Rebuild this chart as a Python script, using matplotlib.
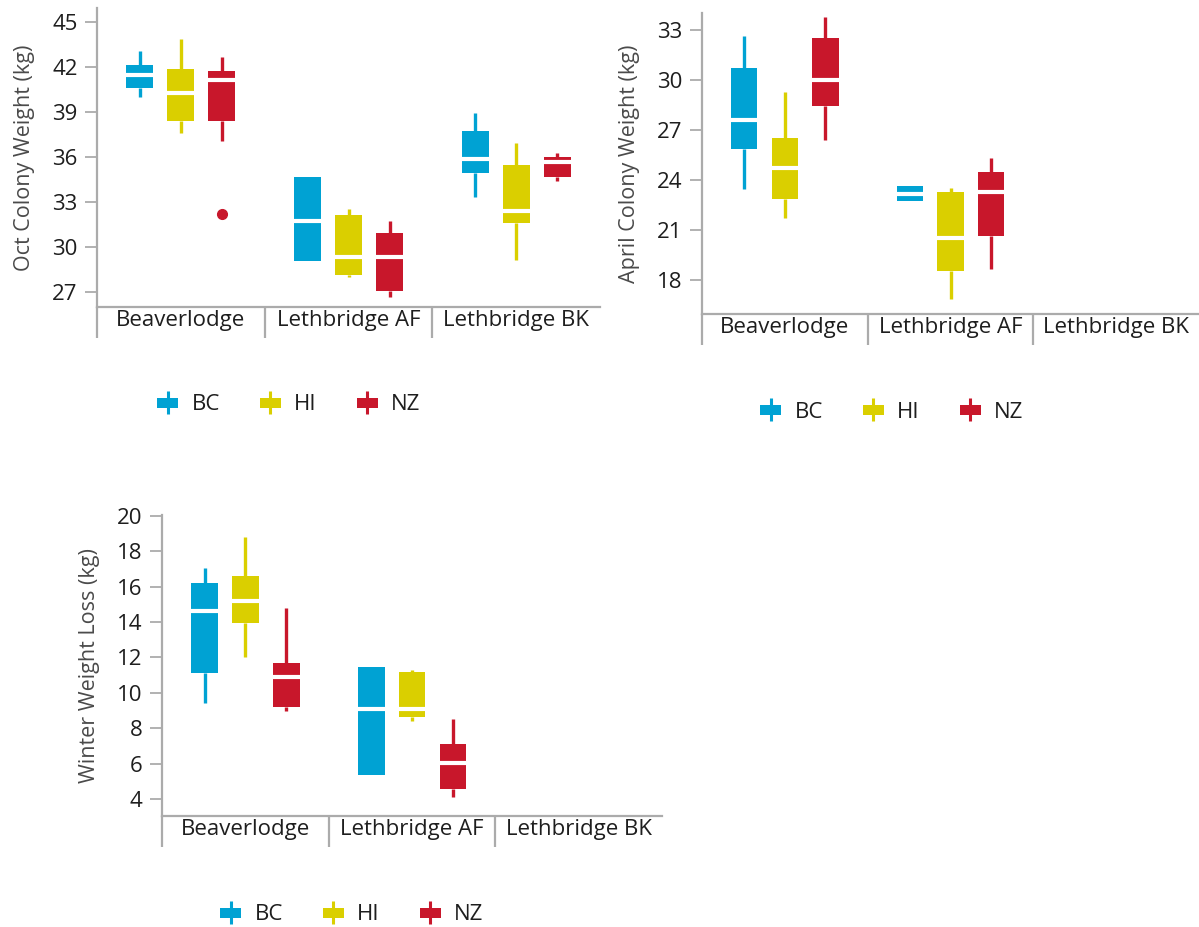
import matplotlib
matplotlib.use("Agg")
import matplotlib.pyplot as plt
from matplotlib.patches import Rectangle, Patch
from matplotlib.lines import Line2D
from matplotlib.legend_handler import HandlerBase

plt.rcParams["font.family"] = ["Open Sans", "DejaVu Sans"]

# ---- data -------------------------------------------------------------
sites = ["Beaverlodge", "Lethbridge AF", "Lethbridge BK"]
stocks = ["BC", "HI", "NZ"]
stock_colors = ["#00A2D3", "#DACF00", "#C8172B"]

# each entry: [whisker low, Q1, median, Q3, whisker high]; None = no data
oct_bc = [[40.0, 40.56, 41.44, 42.11, 43.07], [29.07, 29.07, 31.73, 34.62, 34.62], [33.33, 34.93, 35.82, 37.71, 38.89]]
oct_hi = [[37.6, 38.4, 40.27, 41.82, 43.82], [28.0, 28.11, 29.31, 32.09, 32.49], [29.11, 31.6, 32.38, 35.44, 36.89]]
oct_nz = [[37.07, 38.4, 41.11, 41.71, 42.62], [26.67, 27.07, 29.31, 30.89, 31.73], [34.4, 34.67, 35.67, 35.96, 36.22]]
oct_nz_outliers = [[32.18], [], []]

april_bc = [[23.44, 25.84, 27.63, 30.73, 32.66], [22.73, 22.73, 23.17, 23.64, 23.64], None]
april_hi = [[21.75, 22.85, 24.74, 26.54, 29.27], [16.84, 18.54, 20.55, 23.29, 23.52], None]
april_nz = [[26.42, 28.47, 30.03, 32.52, 33.76], [18.64, 20.67, 23.31, 24.48, 25.34], None]

loss_bc = [[9.44, 11.13, 14.62, 16.18, 17.08], [5.36, 5.36, 9.08, 11.44, 11.44], None]
loss_hi = [[12.04, 13.96, 15.18, 16.61, 18.78], [8.42, 8.61, 9.06, 11.19, 11.28], None]
loss_nz = [[8.99, 9.18, 10.89, 11.66, 14.82], [4.13, 4.55, 6.01, 7.11, 8.5], None]

oct_ticks = [27, 30, 33, 36, 39, 42, 45]
april_ticks = [18, 21, 24, 27, 30, 33]
loss_ticks = [4, 6, 8, 10, 12, 14, 16, 18, 20]

# ---- figure -----------------------------------------------------------
W, H = 1199, 927
fig = plt.figure(figsize=(W / 100, H / 100), dpi=100)

AXIS_GREY = "#ABABAB"
TEXT_DARK = "#1E1E1E"
LABEL_GREY = "#4A4A4A"


def px_axes(left, top, right, bottom):
    return fig.add_axes([left / W, 1 - bottom / H, (right - left) / W, (bottom - top) / H])


class BoxHandle(HandlerBase):
    """Legend key drawn as a tiny box with a whisker line through it."""

    def create_artists(self, legend, orig_handle, xdescent, ydescent,
                       width, height, fontsize, trans):
        c = orig_handle.get_facecolor()
        x0, y0 = -xdescent, -ydescent
        cy = y0 + height / 2
        rect = Rectangle((x0, cy - 3.6), width, 7.2, facecolor=c,
                         edgecolor="none", transform=trans)
        ln = Line2D([x0 + width / 2] * 2, [cy - 8.3, cy + 8.3], color=c,
                    lw=2.2, solid_capstyle="butt", transform=trans)
        return [ln, rect]


def draw_panel(rect_px, series, outliers, ylim, ticks, ylabel, legend_xy):
    ax = px_axes(*rect_px)
    ax_h = rect_px[3] - rect_px[1]
    ax_w = rect_px[2] - rect_px[0]
    offsets = [-0.245, 0.0, 0.245]
    for k, (vals, color) in enumerate(zip(series, stock_colors)):
        for i, s in enumerate(vals):
            if s is None:
                continue
            fl = outliers[k][i] if outliers is not None and outliers[k] is not None else []
            stats = [dict(whislo=s[0], q1=s[1], med=s[2], q3=s[3], whishi=s[4], fliers=fl)]
            ax.bxp(stats, positions=[i + 0.5 + offsets[k]], widths=0.16,
                   patch_artist=True, showcaps=False, showfliers=True,
                   boxprops=dict(facecolor=color, edgecolor=color, linewidth=0),
                   whiskerprops=dict(color=color, linewidth=2.4, solid_capstyle="butt"),
                   medianprops=dict(color="white", linewidth=3.0, solid_capstyle="butt"),
                   flierprops=dict(marker="o", markerfacecolor=color,
                                   markeredgecolor=color, markersize=7))
    ax.set_xlim(0, 3)
    ax.set_ylim(*ylim)
    ax.set_yticks(ticks)
    ax.set_yticklabels([str(t) for t in ticks])
    ax.set_xticks([0.5, 1.5, 2.5])
    ax.set_xticklabels(sites)
    ax.tick_params(axis="x", length=0, pad=2, labelsize=16, labelcolor=TEXT_DARK)
    ax.tick_params(axis="y", length=9, width=1.3, color=AXIS_GREY, pad=5,
                   labelsize=16, labelcolor=TEXT_DARK)
    for side in ("top", "right"):
        ax.spines[side].set_visible(False)
    for side in ("left", "bottom"):
        ax.spines[side].set_color(AXIS_GREY)
        ax.spines[side].set_linewidth(1.6)
    ax.set_facecolor("none")
    ext = 31 / ax_h
    tr = ax.get_xaxis_transform()
    ax.plot([0, 0], [0, -ext], transform=tr, color=AXIS_GREY, lw=1.6,
            clip_on=False, solid_capstyle="butt")
    for xd in (1, 2):
        ax.plot([xd, xd], [0, -ext], transform=tr, color=AXIS_GREY, lw=1.6,
                clip_on=False, solid_capstyle="butt")
    ax.set_ylabel(ylabel, fontsize=15.5, color=LABEL_GREY)
    ax.yaxis.set_label_coords(-62 / ax_w, 0.5)

    handles = [Patch(facecolor=c, label=n) for n, c in zip(stocks, stock_colors)]
    fig.legend(handles=handles, loc="center left",
               bbox_to_anchor=(legend_xy[0] / W, 1 - legend_xy[1] / H),
               ncol=3, frameon=False, fontsize=16, borderpad=0, borderaxespad=0,
               handlelength=0.95, handletextpad=0.6, columnspacing=1.8,
               handler_map={Patch: BoxHandle()}, labelcolor=TEXT_DARK)
    return ax


draw_panel((97, 8, 600, 307), [oct_bc, oct_hi, oct_nz], [None, None, oct_nz_outliers],
           (25.98, 45.91), oct_ticks, "Oct Colony Weight (kg)", (157, 405))
draw_panel((702, 13, 1199, 314), [april_bc, april_hi, april_nz], None,
           (15.96, 34.02), april_ticks, "April Colony Weight (kg)", (760, 412))
draw_panel((162, 515, 662, 816), [loss_bc, loss_hi, loss_nz], None,
           (3.04, 20.05), loss_ticks, "Winter Weight Loss (kg)", (220, 915))

fig.savefig("out.png", dpi=100, facecolor="white")
